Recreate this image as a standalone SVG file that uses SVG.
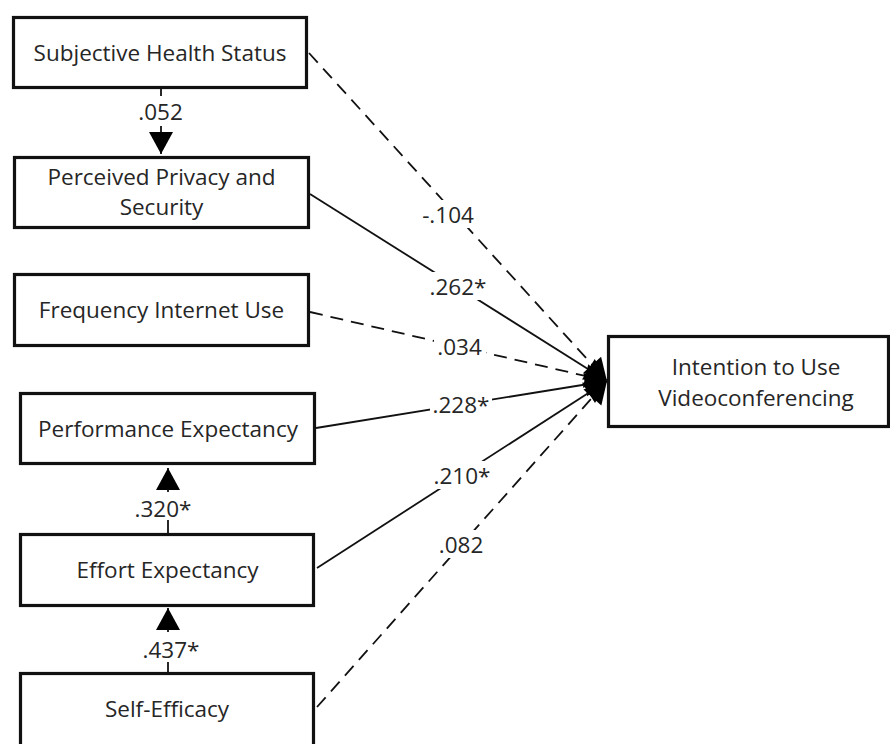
<svg xmlns="http://www.w3.org/2000/svg" width="890" height="744" viewBox="0 0 890 744">
<style>
.box{fill:#fff;stroke:#111;stroke-width:3.2}
.t{font-family:"Open Sans","Liberation Sans",sans-serif;font-size:22.5px;fill:#262626;text-anchor:middle}
.ln{stroke:#111;stroke-width:1.8;fill:none}
.d{stroke-dasharray:13 8}
.lb{fill:#fff}
</style>
<defs>
<marker id="ah" markerUnits="userSpaceOnUse" markerWidth="24" markerHeight="24" refX="22" refY="12" orient="auto" overflow="visible">
<path d="M0,0 L22,12 L0,24 Z" fill="#000"/>
</marker>
</defs>
<rect width="890" height="744" fill="#fff"/>
<g id="connectors">
<line class="ln" x1="161" y1="89" x2="161" y2="154" marker-end="url(#ah)"/>
<line class="ln" x1="168" y1="533" x2="168" y2="468" marker-end="url(#ah)"/>
<line class="ln" x1="168" y1="672" x2="168" y2="608" marker-end="url(#ah)"/>
<line class="ln d" x1="309" y1="53" x2="607" y2="381" marker-end="url(#ah)"/>
<line class="ln" x1="310" y1="194" x2="607" y2="381" marker-end="url(#ah)"/>
<line class="ln d" x1="310" y1="312" x2="607" y2="381" marker-end="url(#ah)"/>
<line class="ln" x1="316" y1="428" x2="607" y2="381" marker-end="url(#ah)"/>
<line class="ln" x1="317" y1="568" x2="607" y2="381" marker-end="url(#ah)"/>
<line class="ln d" x1="317" y1="707" x2="607" y2="381" marker-end="url(#ah)"/>
<rect class="lb" x="135" y="96" width="52" height="30"/>
<text class="t" x="160.5" y="120">.052</text>
<rect class="lb" x="135" y="492" width="58" height="28"/>
<text class="t" x="163" y="517">.320*</text>
<rect class="lb" x="140" y="632" width="62" height="30"/>
<text class="t" x="171" y="658">.437*</text>
<rect class="lb" x="418" y="200" width="60" height="28"/>
<text class="t" x="448" y="223">-.104</text>
<rect class="lb" x="427" y="272" width="64" height="28"/>
<text class="t" x="458" y="295">.262*</text>
<rect class="lb" x="434" y="332" width="52" height="28"/>
<text class="t" x="459.5" y="355">.034</text>
<rect class="lb" x="430" y="390" width="62" height="28"/>
<text class="t" x="461" y="413">.228*</text>
<rect class="lb" x="430" y="461" width="64" height="28"/>
<text class="t" x="462" y="484">.210*</text>
<rect class="lb" x="436" y="530" width="52" height="28"/>
<text class="t" x="461" y="553">.082</text>
</g>
<g id="subjective-health-status">
<rect class="box" x="13.5" y="17.5" width="293" height="70"/>
<text class="t" x="160" y="61">Subjective Health Status</text>
</g>
<g id="perceived-privacy-security">
<rect class="box" x="14.5" y="157.5" width="294" height="70"/>
<text class="t" x="161.5" y="185">Perceived Privacy and</text>
<text class="t" x="161.5" y="215">Security</text>
</g>
<g id="frequency-internet-use">
<rect class="box" x="14.5" y="274.5" width="294" height="71"/>
<text class="t" x="161.5" y="318">Frequency Internet Use</text>
</g>
<g id="performance-expectancy">
<rect class="box" x="20.5" y="393.5" width="294" height="70"/>
<text class="t" x="168" y="437">Performance Expectancy</text>
</g>
<g id="effort-expectancy">
<rect class="box" x="20.5" y="534.5" width="293" height="71"/>
<text class="t" x="167.5" y="578">Effort Expectancy</text>
</g>
<g id="self-efficacy">
<rect class="box" x="20.5" y="673.5" width="293" height="74"/>
<text class="t" x="167" y="717">Self-Efficacy</text>
</g>
<g id="intention-to-use-videoconferencing">
<rect class="box" x="608.5" y="336.5" width="280" height="90"/>
<text class="t" x="756" y="375">Intention to Use</text>
<text class="t" x="756" y="406">Videoconferencing</text>
</g>
</svg>
